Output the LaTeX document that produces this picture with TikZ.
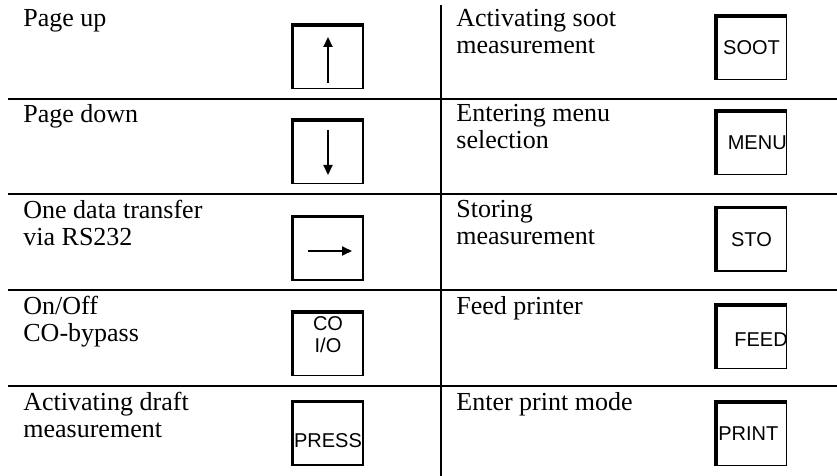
\documentclass[tikz,border=0pt]{standalone}
\usepackage{fontspec}
\setmainfont{Liberation Serif}
\setsansfont{Liberation Sans}
\usetikzlibrary{arrows.meta}

\tikzset{
  keybox/.style={draw, line width=0.6pt, minimum width=35pt, minimum height=31.5pt, inner sep=0pt},
  keyedge/.style={line width=1.75pt, line join=miter},
  keyname/.style={font=\sffamily\fontsize{10}{11}\selectfont, inner sep=0pt},
  desc/.style={font=\fontsize{13}{13.5}\selectfont, align=left, anchor=north west, inner sep=0pt},
  rule/.style={line width=1pt},
  keyarrow/.style={line width=1pt, -{Triangle[length=5pt,width=4.5pt]}}
}

\begin{document}
\begin{tikzpicture}[x=0.5pt, y=-0.5pt]
    \useasboundingbox (0,0) rectangle (837,476);
    % table rules
    \draw[rule] (8,99) -- (837,99);
    \draw[rule] (8,194) -- (837,194);
    \draw[rule] (8,290) -- (837,290);
    \draw[rule] (8,386) -- (837,386);
    \draw[rule] (441,5) -- (441,476);
    % left column
    \node[desc] (tup) at (23,9) {Page up};
    \node[desc] (tdown) at (23,104) {Page down};
    \node[desc] (tsend) at (23,200) {One data transfer\\via RS232};
    \node[desc] (tcoio) at (23,296) {On/Off\\CO-bypass};
    \node[desc] (tpress) at (23,392) {Activating draft\\measurement};
    % right column
    \node[desc] (tsoot) at (456,9) {Activating soot\\measurement};
    \node[desc] (tmenu) at (456,104) {Entering menu\\selection};
    \node[desc] (tsto) at (456,200) {Storing\\measurement};
    \node[desc] (tfeed) at (456,296) {Feed printer};
    \node[desc] (tprint) at (456,392) {Enter print mode};
    % keys
    \node[keybox] (up) at (328,57) {};
    \node[keybox] (down) at (328,152) {};
    \node[keybox] (send) at (328,248.5) {};
    \node[keybox] (coio) at (328,344) {};
    \node[keybox] (press) at (328,433.5) {};
    \node[keybox] (soot) at (751.5,48) {};
    \node[keybox] (menu) at (751.5,143) {};
    \node[keybox] (sto) at (751.5,239.5) {};
    \node[keybox] (feed) at (751.5,337) {};
    \node[keybox] (print) at (751.5,434) {};
    % heavy top and left edges
    \draw[keyedge] (up.south west) |- (up.north east);
    \draw[keyedge] (down.south west) |- (down.north east);
    \draw[keyedge] (send.south west) |- (send.north east);
    \draw[keyedge] (coio.south west) |- (coio.north east);
    \draw[keyedge] (press.south west) |- (press.north east);
    \draw[keyedge] (soot.south west) |- (soot.north east);
    \draw[keyedge] (menu.south west) |- (menu.north east);
    \draw[keyedge] (sto.south west) |- (sto.north east);
    \draw[keyedge] (feed.south west) |- (feed.north east);
    \draw[keyedge] (print.south west) |- (print.north east);
    % key symbols
    \draw[keyarrow] ([yshift=-13pt]up.center) -- ([yshift=10pt]up.center);
    \draw[keyarrow] ([yshift=11pt]down.center) -- ([yshift=-11.5pt]down.center);
    \draw[keyarrow] ([xshift=-10pt,yshift=-1.25pt]send.center) -- ([xshift=12pt,yshift=-1.25pt]send.center);
    \node[keyname, align=center] (lcoio) at ([yshift=4.5pt]coio.center) {CO\\I/O};
    \node[keyname] (lpress) at ([yshift=-3.75pt]press.center) {PRESS};
    \node[keyname] (lsoot) at (soot.center) {SOOT};
    \node[keyname, anchor=east] (lmenu) at (menu.east) {MENU};
    \node[keyname] (lsto) at (sto.center) {STO};
    \node[keyname, anchor=east] (lfeed) at ([xshift=0.5pt,yshift=-1.5pt]feed.east) {FEED};
    \node[keyname, anchor=west] (lprint) at ([xshift=1pt]print.west) {PRINT};
\end{tikzpicture}
\end{document}
